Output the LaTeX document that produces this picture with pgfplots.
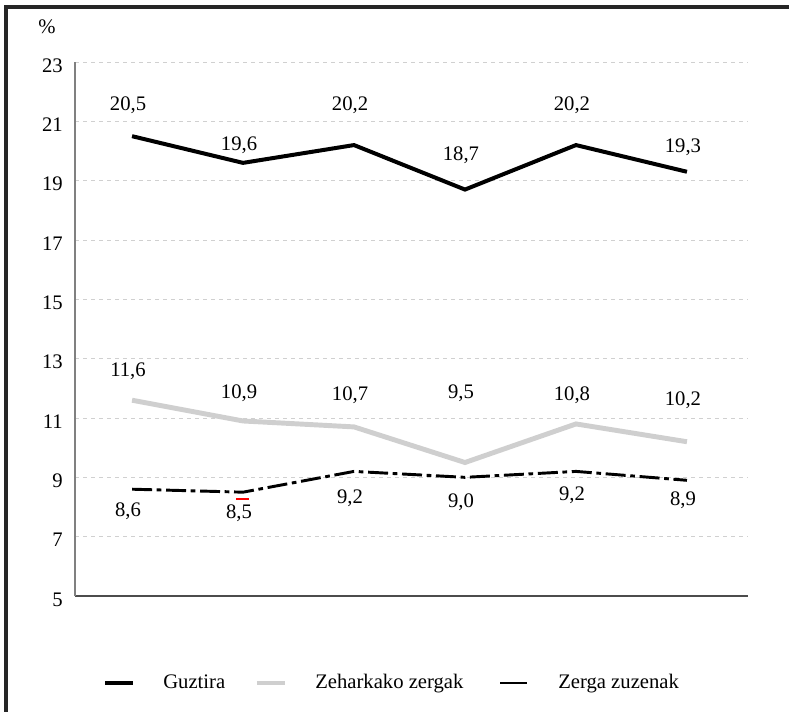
\documentclass[border=0pt]{standalone}
\usepackage{fontspec}
\setmainfont{Liberation Serif}
\usepackage{pgfplots}
\pgfplotsset{compat=1.18}
\definecolor{framec}{HTML}{262626}
\definecolor{lightline}{HTML}{CFCFCF}
\definecolor{gridc}{HTML}{D0D0D0}
\begin{document}
\begin{tikzpicture}[font=\fontsize{15.5}{18}\selectfont]
\useasboundingbox (0,0) rectangle (591.75pt,-533.25pt);
% frame (left and top only)
\draw[framec, line width=2.4pt] (4.5pt,-534pt) -- (4.5pt,-5.25pt) -- (592pt,-5.25pt);
\node at (35.25pt,-20.25pt) {\%};
\begin{axis}[
    at={(56.25pt,-447pt)}, anchor=south west,
    scale only axis, width=504.75pt, height=400.5pt,
    xmin=-0.514, xmax=5.55, ymin=5, ymax=23,
    axis x line*=bottom, axis y line*=left,
    x axis line style={draw=black!70, line width=0.9pt, -},
    y axis line style={draw=black!50, line width=1.1pt, -},
    xtick=\empty,
    ytick={5,7,...,23},
    ymajorgrids,
    major grid style={gridc, dashed, line width=0.6pt},
    major tick length=0pt,
    /pgf/number format/assume math mode=true,
    yticklabel style={anchor=east, inner sep=0pt, xshift=-9pt, yshift=-2.6pt},
    clip=false,
]
% Guztira
\addplot[black, line width=3pt, line join=miter]
    coordinates {(0,20.5) (1,19.6) (2,20.2) (3,18.7) (4,20.2) (5,19.3)};
% Zeharkako zergak
\addplot[lightline, line width=3.7pt, line join=miter]
    coordinates {(0,11.6) (1,10.9) (2,10.7) (3,9.5) (4,10.8) (5,10.2)};
% Zerga zuzenak
\addplot[black, line width=2.2pt, dash pattern=on 15pt off 3.5pt on 3.5pt off 3.5pt]
    coordinates {(0,8.6) (1,8.5) (2,9.2) (3,9.0) (4,9.2) (5,8.9)};
% value labels
\begin{scope}[every node/.style={xshift=-3pt}]
\node at (axis cs:0,21.55) {20,5};
\node at (axis cs:1,20.20) {19,6};
\node at (axis cs:2,21.55) {20,2};
\node at (axis cs:3,19.87) {18,7};
\node at (axis cs:4,21.55) {20,2};
\node at (axis cs:5,20.14) {19,3};
\node at (axis cs:0,12.59) {11,6};
\node at (axis cs:1,11.84) {10,9};
\node at (axis cs:2,11.78) {10,7};
\node at (axis cs:3,11.84) {9,5};
\node at (axis cs:4,11.78) {10,8};
\node at (axis cs:5,11.60) {10,2};
\node at (axis cs:0,7.87) {8,6};
\node at (axis cs:1,7.80) {8,5};
\node at (axis cs:2,8.30) {9,2};
\node at (axis cs:3,8.17) {9,0};
\node at (axis cs:4,8.40) {9,2};
\node at (axis cs:5,8.24) {8,9};
\end{scope}
\draw[red, line width=1.5pt] (axis cs:0.94,8.27) -- (axis cs:1.05,8.27);
% legend
\draw[black, line width=3.2pt] (rel axis cs:0.0446,-0.1629) -- (rel axis cs:0.0862,-0.1629);
\node[anchor=base west, inner sep=0pt] at (rel axis cs:0.1308,-0.1723) {Guztira};
\draw[lightline, line width=3.7pt] (rel axis cs:0.2704,-0.1629) -- (rel axis cs:0.3120,-0.1629);
\node[anchor=base west, inner sep=0pt] at (rel axis cs:0.3566,-0.1723) {Zeharkako zergak};
\draw[black, line width=2.2pt] (rel axis cs:0.6315,-0.1629) -- (rel axis cs:0.6716,-0.1629);
\node[anchor=base west, inner sep=0pt] at (rel axis cs:0.7177,-0.1723) {Zerga zuzenak};
\end{axis}
\end{tikzpicture}
\end{document}
